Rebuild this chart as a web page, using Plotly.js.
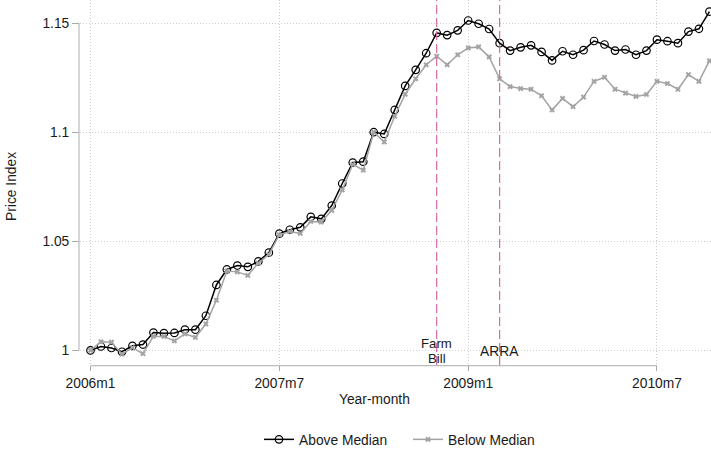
<!DOCTYPE html>
<html>
<head>
<meta charset="utf-8">
<script src="https://cdn.plot.ly/plotly-3.0.1.min.js"></script>
<style>
  html, body { margin: 0; padding: 0; background: #fff; }
  #chart { width: 711px; height: 455px; }
</style>
</head>
<body>
<div id="chart"></div>
<script>
// Monthly labels, 2006m1 .. 2010m12 (Stata-style year-month)
const months = [];
for (let y = 2006; y <= 2010; y++) {
  for (let m = 1; m <= 12; m++) months.push(y + 'm' + m);
}

// Price index, counties above the median
const aboveMedian = [
  1.000, 1.0018, 1.0011, 0.9994, 1.0021, 1.0027, 1.0082, 1.0079, 1.0080, 1.0095, 1.0095, 1.0159,
  1.0300, 1.0371, 1.0389, 1.0383, 1.0408, 1.0448, 1.0535, 1.0553, 1.0564, 1.0612, 1.0603, 1.0664,
  1.0765, 1.0861, 1.0865, 1.1000, 1.0992, 1.1102, 1.1212, 1.1286, 1.1362, 1.1455, 1.1445, 1.1467,
  1.1512, 1.1497, 1.1473, 1.1408, 1.1374, 1.1389, 1.1398, 1.1368, 1.1329, 1.1371, 1.1355, 1.1376,
  1.1418, 1.1402, 1.1374, 1.1379, 1.1355, 1.1374, 1.1424, 1.1417, 1.1408, 1.1461, 1.1474, 1.1553
];

// Price index, counties below the median
const belowMedian = [
  1.000, 1.0040, 1.0038, 0.9983, 1.0013, 0.9985, 1.0064, 1.0064, 1.0044, 1.0076, 1.0060, 1.0121,
  1.0230, 1.0364, 1.0360, 1.0344, 1.0400, 1.0440, 1.0530, 1.0545, 1.0536, 1.0591, 1.0588, 1.0642,
  1.0735, 1.0853, 1.0826, 1.1000, 1.0955, 1.1073, 1.1174, 1.1245, 1.1309, 1.1348, 1.1309, 1.1355,
  1.1386, 1.1391, 1.1345, 1.1245, 1.1209, 1.1200, 1.1197, 1.1167, 1.1102, 1.1155, 1.1117, 1.1161,
  1.1233, 1.1252, 1.1197, 1.1179, 1.1164, 1.1173, 1.1233, 1.1223, 1.1197, 1.1264, 1.1233, 1.1327
];

// Axis ticks
const xTickMonths = ['2006m1', '2007m7', '2009m1', '2010m7'];
const yTickVals = [1, 1.05, 1.1, 1.15];
const yTickText = ['1', '1.05', '1.1', '1.15'];

// Policy events marked with vertical lines
const eventMonths = ['2008m10', '2009m4'];
const eventLabels = [['Farm', 'Bill'], ['ARRA']];

const xIdx = months.map((_, i) => i);
const xTickVals = xTickMonths.map(m => months.indexOf(m));
const eventIdx = eventMonths.map(m => months.indexOf(m));

const FONT = 'Liberation Sans, Arial, Helvetica, sans-serif';
const FS = 13.8;
const TXT = '#1a1a1a';
const AXIS_GREY = '#ababab';
const GRID_GREY = '#cdcdcd';
const EVENT_PINK = '#d96aa3';

const traces = [
  {
    x: xIdx, y: aboveMedian, name: 'Above Median',
    type: 'scatter', mode: 'lines+markers', cliponaxis: false,
    line: { color: '#000000', width: 1.5 },
    marker: { symbol: 'circle-open', size: 7.5, color: '#000000', line: { width: 1.2, color: '#000000' } }
  },
  {
    x: xIdx, y: belowMedian, name: 'Below Median',
    type: 'scatter', mode: 'lines+markers', cliponaxis: false,
    line: { color: '#a3a3a3', width: 1.5 },
    marker: { symbol: 'x', size: 5, color: '#a3a3a3' }
  }
];

const shapes = [];
const annotations = [];

// Stata-style axis lines that only span the labelled range
shapes.push({ type: 'line', xref: 'x', yref: 'paper', x0: xTickVals[0], x1: xTickVals[xTickVals.length - 1],
  y0: -0.002, y1: -0.002, line: { color: AXIS_GREY, width: 1 } });
shapes.push({ type: 'line', xref: 'paper', yref: 'y', x0: -0.0016, x1: -0.0016,
  y0: yTickVals[0], y1: yTickVals[yTickVals.length - 1], line: { color: AXIS_GREY, width: 1 } });

// Event markers
eventIdx.forEach((xi) => {
  shapes.push({ type: 'line', xref: 'x', yref: 'paper', x0: xi, x1: xi, y0: 0, y1: 1,
    line: { color: EVENT_PINK, width: 1.2, dash: '9px,4px' } });
});
const labelFont = { family: FONT, size: 13.2, color: TXT };
// Farm Bill label (two stacked lines) and ARRA label
annotations.push({ xref: 'x', yref: 'paper', x: eventIdx[0], y: (368 - 346.5) / 368, text: eventLabels[0][0],
  showarrow: false, font: labelFont, xanchor: 'center', yanchor: 'middle', borderpad: 0 });
annotations.push({ xref: 'x', yref: 'paper', x: eventIdx[0], y: (368 - 361.5) / 368, text: eventLabels[0][1],
  showarrow: false, font: labelFont, xanchor: 'center', yanchor: 'middle', borderpad: 0 });
annotations.push({ xref: 'x', yref: 'paper', x: eventIdx[1], y: (368 - 354) / 368, text: eventLabels[1][0],
  showarrow: false, font: { family: FONT, size: FS, color: TXT }, xanchor: 'center', yanchor: 'middle', borderpad: 0 });

// Axis titles, centred on the labelled range
annotations.push({ xref: 'paper', yref: 'paper', x: (374.5 - 80) / 631, y: (368 - 403) / 368, text: 'Year-month',
  showarrow: false, font: { family: FONT, size: FS, color: TXT }, xanchor: 'center', yanchor: 'middle' });
annotations.push({ xref: 'paper', yref: 'paper', x: (12 - 80) / 631, y: (368 - 188.5) / 368, text: 'Price Index',
  textangle: -90, showarrow: false, font: { family: FONT, size: FS, color: TXT }, xanchor: 'center', yanchor: 'middle' });

const layout = {
  width: 711, height: 455,
  margin: { l: 80, r: 0, t: 0, b: 87 },
  paper_bgcolor: '#ffffff', plot_bgcolor: '#ffffff',
  font: { family: FONT, size: FS, color: TXT },
  showlegend: true,
  legend: {
    orientation: 'h', x: (408 - 80) / 631, xanchor: 'center', y: (368 - 443) / 368, yanchor: 'middle',
    entrywidth: 104, entrywidthmode: 'pixels',
    font: { family: FONT, size: FS, color: TXT }, bgcolor: 'rgba(0,0,0,0)'
  },
  xaxis: {
    range: [-1.0, 59.15], showline: false, zeroline: false,
    tickmode: 'array', tickvals: xTickVals, ticktext: xTickMonths,
    ticks: 'outside', ticklen: 5, tickcolor: AXIS_GREY, tickwidth: 1,
    showgrid: true, gridcolor: GRID_GREY, griddash: '1px,2px', gridwidth: 1,
    tickfont: { family: FONT, size: FS, color: TXT }
  },
  yaxis: {
    range: [0.99332, 1.16059], showline: false, zeroline: false,
    tickmode: 'array', tickvals: yTickVals, ticktext: yTickText,
    ticks: 'outside', ticklen: 7, tickcolor: AXIS_GREY, tickwidth: 1,
    showgrid: true, gridcolor: GRID_GREY, griddash: '1px,2px', gridwidth: 1,
    tickfont: { family: FONT, size: FS, color: TXT }
  },
  shapes: shapes,
  annotations: annotations
};

Plotly.newPlot('chart', traces, layout, { staticPlot: true, displayModeBar: false });
</script>
</body>
</html>
